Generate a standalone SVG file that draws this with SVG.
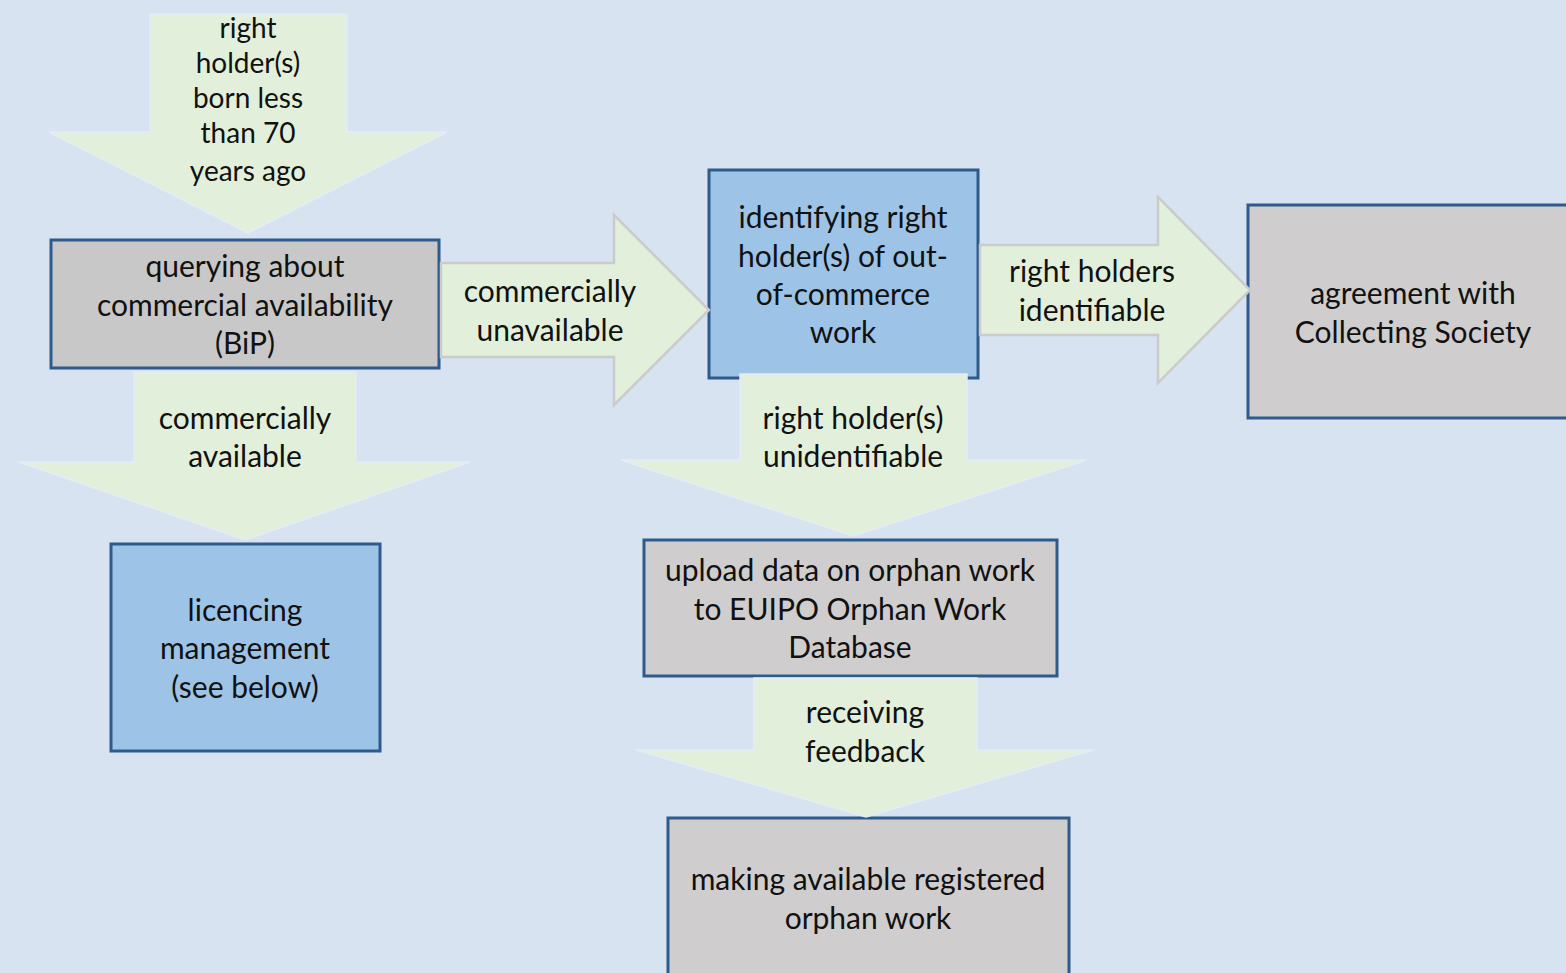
<svg xmlns="http://www.w3.org/2000/svg" width="1566" height="973" viewBox="0 0 1566 973">
<style>
.bg{fill:#d7e3f1}
.gray{fill:#cfcdcd;stroke:#2e5a8c;stroke-width:3}
.gray2{fill:#c8c8c8;stroke:#2e5a8c;stroke-width:3}
.blue{fill:#9dc3e6;stroke:#2e5a8c;stroke-width:3}
.down{fill:#e2efda;stroke:#e4ecf6;stroke-width:1.5}
.right{fill:#e2efda;stroke:#cbcbcb;stroke-width:2.5}
text{font-family:Lato,"Liberation Sans",sans-serif;font-size:30px;fill:#111;text-anchor:middle}
.sm{font-size:28px}
</style>
<rect class="bg" x="0" y="0" width="1566" height="973"/>
<g id="node-query"><rect class="gray2" x="51" y="240" width="388" height="128"/>
<text x="245" y="277">querying about</text><text x="245" y="316">commercial availability</text><text x="245" y="354">(BiP)</text></g>
<g id="node-identify"><rect class="blue" x="709" y="170" width="269" height="208"/>
<text x="843" y="228">identifying right</text><text x="843" y="267">holder(s) of out-</text><text x="843" y="305">of-commerce</text><text x="843" y="343">work</text></g>
<g id="node-agreement"><rect class="gray" x="1248" y="205" width="330" height="213"/>
<text x="1413" y="304">agreement with</text><text x="1413" y="343">Collecting Society</text></g>
<g id="node-licencing"><rect class="blue" x="111" y="544" width="269" height="207"/>
<text x="245" y="621">licencing</text><text x="245" y="659">management</text><text x="245" y="698">(see below)</text></g>
<g id="node-upload"><rect class="gray" x="644" y="540" width="413" height="136"/>
<text x="850" y="581">upload data on orphan work</text><text x="850" y="620">to EUIPO Orphan Work</text><text x="850" y="658">Database</text></g>
<g id="node-making"><rect class="gray" x="668" y="818" width="401" height="170"/>
<text x="868" y="890">making available registered</text><text x="868" y="929">orphan work</text></g>
<g id="connectors">
<g id="arrow-born"><polygon class="down" points="150,14 347,14 347,132 447,132 248,233 49,132 150,132"/>
<text class="sm" x="248" y="38">right</text><text class="sm" x="248" y="73">holder(s)</text><text class="sm" x="248" y="108">born less</text><text class="sm" x="248" y="143">than 70</text><text class="sm" x="248" y="181">years ago</text></g>
<g id="arrow-unavail"><polygon class="right" points="441,263 614,263 614,215 709,310 614,405 614,357 441,357"/>
<text x="550" y="302">commercially</text><text x="550" y="341">unavailable</text></g>
<g id="arrow-identifiable"><polygon class="right" points="980,245 1158,245 1158,197 1250,290 1158,383 1158,335 980,335"/>
<text x="1092" y="282">right holders</text><text x="1092" y="321">identifiable</text></g>
<g id="arrow-avail"><polygon class="down" points="134,372 356,372 356,462 470,462 245,540 19,462 134,462"/>
<text x="245" y="429">commercially</text><text x="245" y="467">available</text></g>
<g id="arrow-unident"><polygon class="down" points="740,374 967,374 967,460 1087,460 853,536 621,460 740,460"/>
<text x="853" y="429">right holder(s)</text><text x="853" y="467">unidentifiable</text></g>
<g id="arrow-feedback"><polygon class="down" points="754,678 977,678 977,750 1093,750 866,817 636,750 754,750"/>
<text x="865" y="723">receiving</text><text x="865" y="762">feedback</text></g>
</g>
</svg>
